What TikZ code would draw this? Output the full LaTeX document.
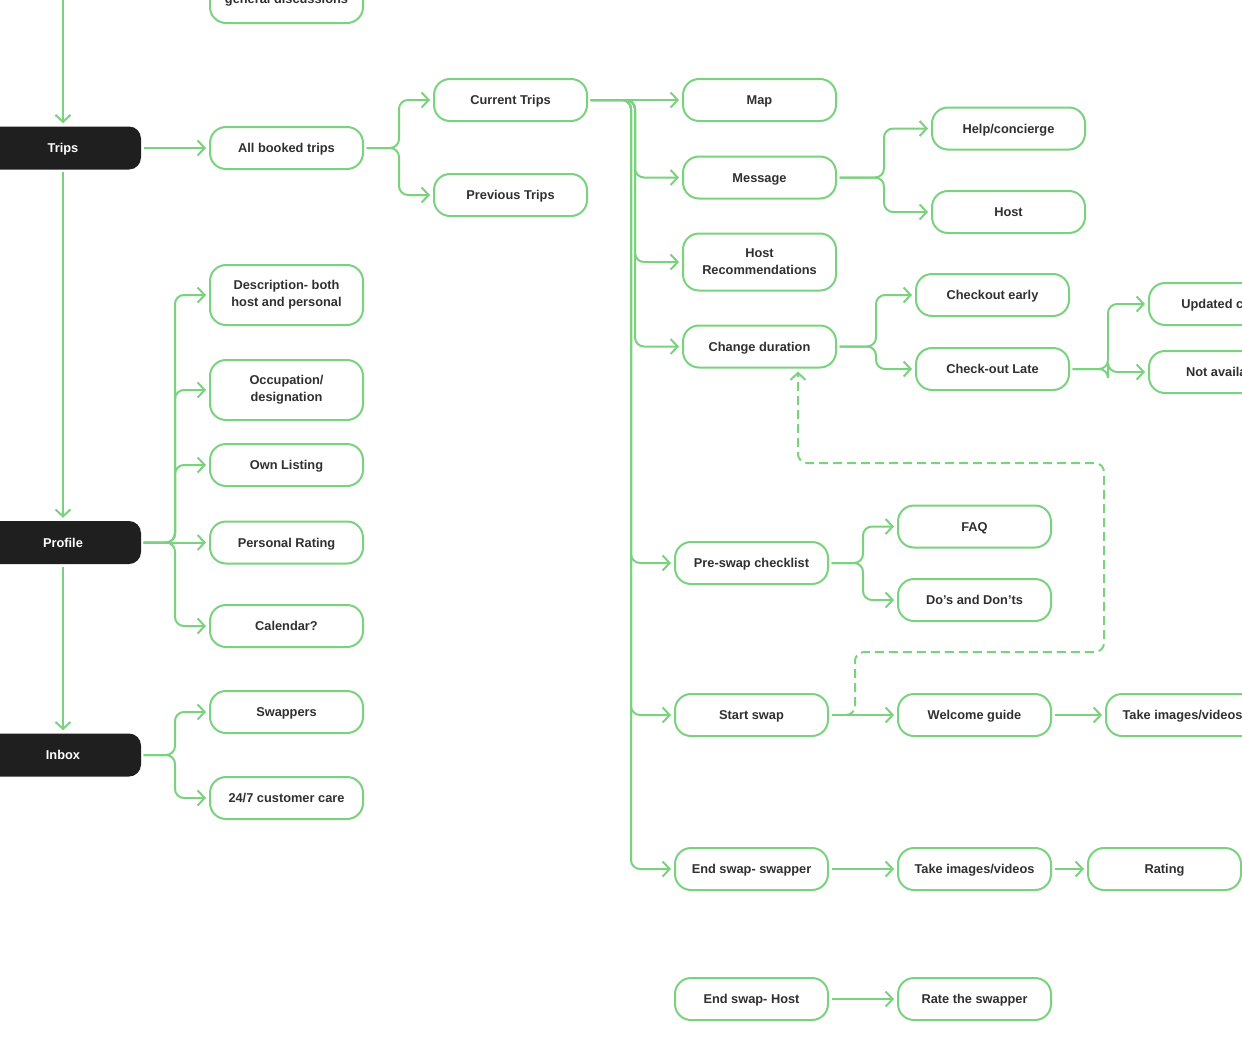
\documentclass[tikz,border=0pt]{standalone}
\usepackage{fontspec}
\setmainfont{Liberation Sans}
\usetikzlibrary{arrows.meta,calc}
\definecolor{gr}{HTML}{7BD27E}
\definecolor{dk}{HTML}{1F1F1F}
\definecolor{tx}{HTML}{303030}
\tikzset{
  basebox/.style={draw=gr, line width=2pt, rounded corners=16pt, minimum width=153pt,
    minimum height=42pt, fill=white, text=tx, inner sep=0pt, align=center,
    font=\fontsize{12.8}{17}\selectfont\bfseries},
  gbox/.style={basebox, text height=9.2pt, text depth=0pt},
  tallbox/.style={basebox, minimum height=60pt},
  bbox/.style={fill=dk, rounded corners=12pt, minimum width=156pt, minimum height=43pt,
    text=white, inner sep=0pt, text height=9.2pt, text depth=0pt,
    font=\fontsize{12.8}{15}\selectfont\bfseries},
  conn/.style={draw=gr, line width=2pt, -{Straight Barb[length=7pt,width=15pt]},
    shorten >=3pt, shorten <=2.5pt, rounded corners=9pt},
  dconn/.style={conn, dash pattern=on 9pt off 5pt, shorten <=0pt}
}
\begin{document}
\begin{tikzpicture}[x=1pt,y=-1pt]
\useasboundingbox (0,0) rectangle (1242,1044);
\clip (0,0) rectangle (1242,1044);
\fill[white] (0,0) rectangle (1242,1044);

% left black nodes
\node[bbox] (trips) at (63,148) {Trips};
\node[bbox] (prof) at (63,542.5) {Profile};
\node[bbox] (inbox) at (63,755) {Inbox};
\coordinate (top) at (63,-5);

% column 1
\node[gbox, minimum height=48pt] (gen) at (286.5,-1) {general discussions};
\node[gbox] (allb) at (286.5,148) {All booked trips};
\node[tallbox] (desc) at (286.5,295) {Description- both\\host and personal};
\node[tallbox] (occ) at (286.5,390) {Occupation/\\designation};
\node[gbox] (own) at (286.5,465) {Own Listing};
\node[gbox] (prat) at (286.5,542.5) {Personal Rating};
\node[gbox] (cal) at (286.5,626) {Calendar?};
\node[gbox] (swp) at (286.5,712) {Swappers};
\node[gbox] (care) at (286.5,798) {24/7 customer care};

% column 2
\node[gbox] (cur) at (510.5,100) {Current Trips};
\node[gbox] (prev) at (510.5,195) {Previous Trips};

% column 3
\node[gbox] (map) at (759.5,100) {Map};
\node[gbox] (msg) at (759.5,177.5) {Message};
\node[basebox, minimum height=57pt] (hrec) at (759.5,262) {Host\\Recommendations};
\node[gbox] (chg) at (759.5,346.5) {Change duration};
\node[gbox] (pre) at (751.5,563) {Pre-swap checklist};
\node[gbox] (start) at (751.5,715) {Start swap};
\node[gbox] (ends) at (751.5,869) {End swap- swapper};
\node[gbox] (endh) at (751.5,999) {End swap- Host};

% column 4
\node[gbox] (help) at (1008.5,128.5) {Help/concierge};
\node[gbox] (host) at (1008.5,212) {Host};
\node[gbox] (chke) at (992.5,295) {Checkout early};
\node[gbox] (chkl) at (992.5,369) {Check-out Late};
\node[gbox] (faq) at (974.5,526.5) {FAQ};
\node[gbox] (dos) at (974.5,600) {Do’s and Don’ts};
\node[gbox] (wel) at (974.5,715) {Welcome guide};
\node[gbox] (img1) at (974.5,869) {Take images/videos};
\node[gbox] (rts) at (974.5,999) {Rate the swapper};

% column 5
\node[gbox] (upd) at (1225.5,304) {Updated costs};
\node[gbox] (nav) at (1225.5,372) {Not available};
\node[gbox] (img2) at (1182.5,715) {Take images/videos};
\node[gbox] (rate) at (1164.5,869) {Rating};

% trunk
\draw[conn, shorten <=0pt] (top) -- (trips.north);
\draw[conn] (trips.south) -- (prof.north);
\draw[conn] (prof.south) -- (inbox.north);

% trips
\draw[conn] (trips.east) -- (allb.west);
\draw[conn] (allb.east) -| ([xshift=-34pt]cur.west) -- (cur.west);
\draw[conn] (allb.east) -| ([xshift=-34pt]prev.west) -- (prev.west);

% current trips
\draw[conn] (cur.east) -- (map.west);
\draw[conn] (cur.east) -| ([xshift=-47pt]msg.west) -- (msg.west);
\draw[conn] (cur.east) -| ([xshift=-47pt]hrec.west) -- (hrec.west);
\draw[conn] (cur.east) -| ([xshift=-47pt]chg.west) -- (chg.west);
\draw[conn] (cur.east) -| ([xshift=-43pt]pre.west) -- (pre.west);
\draw[conn] (cur.east) -| ([xshift=-43pt]start.west) -- (start.west);
\draw[conn] (cur.east) -| ([xshift=-43pt]ends.west) -- (ends.west);

% message
\draw[conn] (msg.east) -| ([xshift=-47pt]help.west) -- (help.west);
\draw[conn] (msg.east) -| ([xshift=-47pt]host.west) -- (host.west);

% change duration
\draw[conn] (chg.east) -| ([xshift=-39pt]chke.west) -- (chke.west);
\draw[conn] (chg.east) -| ([xshift=-39pt]chkl.west) -- (chkl.west);
\draw[conn] (chkl.east) -| ([xshift=-40pt]upd.west) -- (upd.west);
\draw[conn] (chkl.east) -| ([xshift=-40pt]nav.west) -- (nav.west);

% pre-swap
\draw[conn] (pre.east) -| ([xshift=-34pt]faq.west) -- (faq.west);
\draw[conn] (pre.east) -| ([xshift=-34pt]dos.west) -- (dos.west);

% swaps
\draw[conn] (start.east) -- (wel.west);
\draw[conn] (wel.east) -- (img2.west);
\draw[conn] (ends.east) -- (img1.west);
\draw[conn] (img1.east) -- (rate.west);
\draw[conn] (endh.east) -- (rts.west);

% dashed loop back to change duration
\coordinate (d0) at (846,715);
\coordinate (d1) at (855,652);
\coordinate (d2) at (1104,652);
\coordinate (d3) at (1104,463);
\coordinate (d4) at (798,463);
\draw[dconn] (d0) -| (d1) -- (d2) -- (d3) -- (d4) -- ([xshift=38.5pt]chg.south);

% profile
\draw[conn] (prof.east) -| ([xshift=-34pt]desc.west) -- (desc.west);
\draw[conn] (prof.east) -| ([xshift=-34pt]occ.west) -- (occ.west);
\draw[conn] (prof.east) -| ([xshift=-34pt]own.west) -- (own.west);
\draw[conn] (prof.east) -- (prat.west);
\draw[conn] (prof.east) -| ([xshift=-34pt]cal.west) -- (cal.west);

% inbox
\draw[conn] (inbox.east) -| ([xshift=-34pt]swp.west) -- (swp.west);
\draw[conn] (inbox.east) -| ([xshift=-34pt]care.west) -- (care.west);
\end{tikzpicture}
\end{document}
